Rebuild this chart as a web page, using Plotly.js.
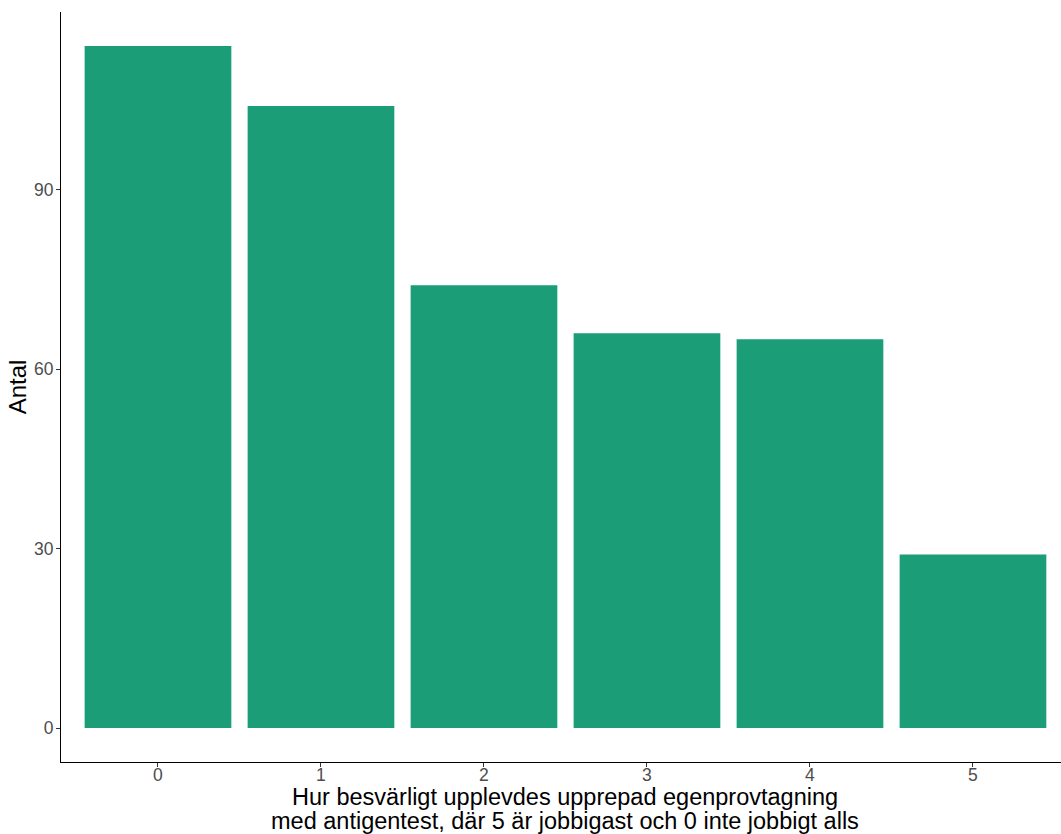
<!DOCTYPE html>
<html>
<head>
<meta charset="utf-8">
<script src="https://cdn.plot.ly/plotly-3.0.1.min.js"></script>
<style>html,body{margin:0;padding:0;background:#fff;overflow:hidden}</style>
</head>
<body>
<div id="chart" style="width:1061px;height:834px"></div>
<script>
const categories = ["0", "1", "2", "3", "4", "5"];
const counts = [114, 104, 74, 66, 65, 29];
const yTicks = [0, 30, 60, 90];
const xTitleLines = [
  "Hur besvärligt upplevdes upprepad egenprovtagning",
  "med antigentest, där 5 är jobbigast och 0 inte jobbigt alls"
];
const yTitle = "Antal";

const trace = {
  type: "bar",
  x: categories.map(Number),
  y: counts,
  width: 0.9,
  marker: {color: "#1B9E77", line: {width: 0}},
  hoverinfo: "x+y"
};

const font = "Liberation Sans, Arial, sans-serif";
const titleFont = {size: 23.5, color: "#000", family: font};
const layout = {
  width: 1061,
  height: 834,
  margin: {l: 61, r: 0, t: 12, b: 72, pad: 0},
  paper_bgcolor: "#fff",
  plot_bgcolor: "#fff",
  showlegend: false,
  font: {family: font},
  xaxis: {
    range: [-0.595, 5.54],
    tickmode: "array",
    tickvals: categories.map(Number),
    ticktext: categories,
    showgrid: false,
    zeroline: false,
    showline: true,
    linecolor: "#000",
    linewidth: 1.1,
    ticks: "outside",
    ticklen: 4,
    tickwidth: 1.1,
    tickcolor: "#333",
    ticklabelstandoff: -7,
    tickfont: {size: 17.5, color: "#4D4D4D", family: font}
  },
  yaxis: {
    range: [-5.68, 119.7],
    tickmode: "array",
    tickvals: yTicks,
    ticktext: yTicks.map(String),
    showgrid: false,
    zeroline: false,
    showline: true,
    linecolor: "#000",
    linewidth: 1.1,
    ticks: "outside",
    ticklen: 4,
    tickwidth: 1.1,
    tickcolor: "#333",
    ticklabelstandoff: -1,
    tickfont: {size: 17.5, color: "#4D4D4D", family: font},
    title: {text: yTitle, font: {size: 24, color: "#000", family: font}, standoff: 0}
  },
  annotations: [
    {text: xTitleLines[0], xref: "paper", yref: "paper", x: 0.504, y: -0.0467,
     xanchor: "center", yanchor: "middle", showarrow: false, font: titleFont},
    {text: xTitleLines[1], xref: "paper", yref: "paper", x: 0.504, y: -0.0787,
     xanchor: "center", yanchor: "middle", showarrow: false, font: titleFont}
  ]
};

Plotly.newPlot("chart", [trace], layout, {displayModeBar: false});
</script>
</body>
</html>
